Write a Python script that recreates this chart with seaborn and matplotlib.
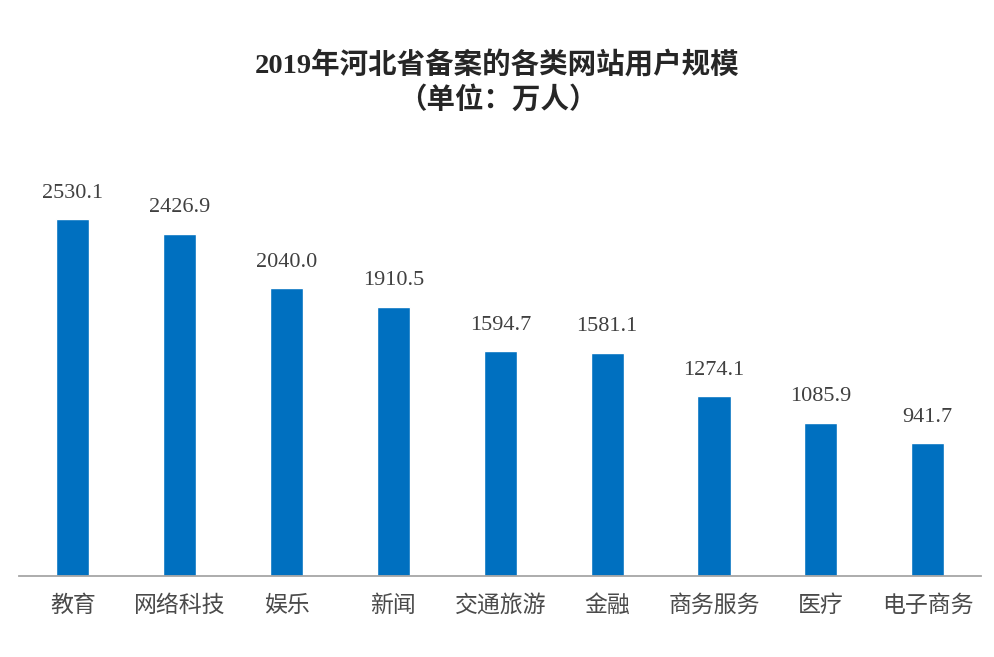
import matplotlib
matplotlib.use('Agg')
import matplotlib.pyplot as plt
import seaborn as sns
import pandas as pd

# Données
categories = ['教育', '网络科技', '娱乐', '新闻', '交通旅游', '金融', '商务服务', '医疗', '电子商务']
users = [2530.1, 2426.9, 2040.0, 1910.5, 1594.7, 1581.1, 1274.1, 1085.9, 941.7]

df = pd.DataFrame({'类别': categories, '用户规模': users})

sns.set_theme(style='white')
plt.rcParams['font.family'] = ['Noto Sans CJK SC', 'DejaVu Sans']

fig = plt.figure(figsize=(9.95, 6.57), dpi=100)
ax = fig.add_axes([0.01935, 0.1233, 0.9668, 0.6484])

sns.barplot(data=df, x='类别', y='用户规模', color='#0070C0', saturation=1,
            width=0.309, ax=ax)

ax.set_ylim(0, 3022)
ax.set_xlim(-0.5, len(categories) - 0.5)

# Étiquettes de valeur
for i, v in enumerate(users):
    ax.annotate(f'{v:.1f}', xy=(i, v), xytext=(0, 12), textcoords='offset points',
                ha='center', va='bottom', fontsize=16, color='#404040',
                family=['Liberation Serif', 'Noto Sans CJK SC'])

ax.set_xlabel('')
ax.set_ylabel('')
ax.set_yticks([])
ax.tick_params(axis='x', length=0, pad=13, labelsize=16.5, labelcolor='#4a4a4a')
for s in ['top', 'right', 'left']:
    ax.spines[s].set_visible(False)
ax.spines['bottom'].set_color('#A6A6A6')
ax.spines['bottom'].set_linewidth(1.3)

fig.text(0.5, 0.900, '2019年河北省备案的各类网站用户规模', ha='center', va='center',
         fontsize=20.5, fontweight='bold', color='#262626',
         family=['Liberation Serif', 'Noto Sans CJK SC'])
fig.text(0.5, 0.848, '（单位：万人）', ha='center', va='center',
         fontsize=20.5, fontweight='bold', color='#262626')

fig.savefig('out.png', dpi=100)
